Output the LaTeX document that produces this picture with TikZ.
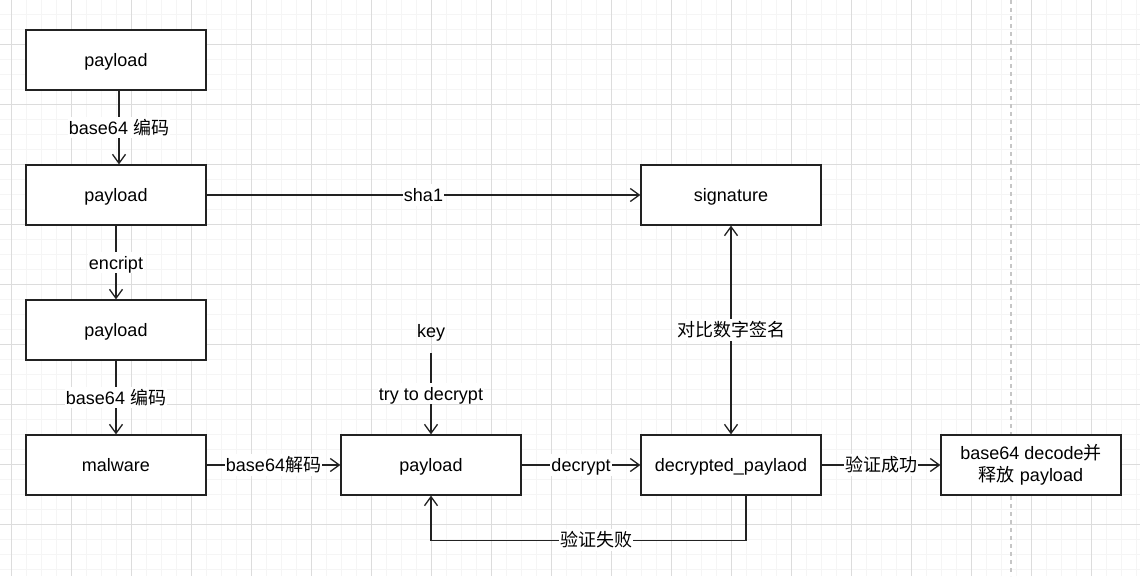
\documentclass[tikz,border=0pt]{standalone}
\usepackage{fontspec}
\setmainfont{Liberation Sans}
\newfontfamily\cjk{Noto Sans CJK SC}
\usetikzlibrary{arrows.meta}
\definecolor{minorgrid}{HTML}{F5F5F5}
\definecolor{majorgrid}{HTML}{DCDCDC}
\definecolor{ink}{HTML}{222222}
\tikzset{
  tip/.tip={Straight Barb[length=9pt,width=13pt,line width=1.3pt]},
  txt/.style={font=\fontsize{18}{21.6}\selectfont, text=black},
  box/.style={draw=ink, line width=1.2pt, fill=white, minimum width=180pt, minimum height=60pt, inner sep=0pt, align=center, txt},
  onebox/.style={box, text height=17pt, text depth=3.8pt},
  conn/.style={draw=ink, line width=1.2pt, -tip},
  biconn/.style={draw=ink, line width=1.2pt, tip-tip},
  lbl/.style={fill=white, inner xsep=1pt, inner ysep=0pt, txt, text height=17.5pt, text depth=3.8pt},
  plain/.style={inner sep=0pt, txt, text height=17pt, text depth=3.8pt}
}
\begin{document}
\begin{tikzpicture}[x=1pt,y=-1pt]
\useasboundingbox (0,0) rectangle (1140,576);
\fill[white] (0,0) rectangle (1140,576);
% minor grid
\foreach \gx in {11,26,...,1140} \draw[minorgrid, line width=1pt] (\gx,0) -- (\gx,576);
\foreach \gy in {14,29,...,576} \draw[minorgrid, line width=1pt] (0,\gy) -- (1140,\gy);
% major grid
\foreach \gx in {11,71,...,1140} \draw[majorgrid, line width=1pt] (\gx,0) -- (\gx,576);
\foreach \gy in {44,104,...,576} \draw[majorgrid, line width=1pt] (0,\gy) -- (1140,\gy);
% dashed vertical guide
\draw[color=majorgrid!90!black, line width=1.5pt, dash pattern=on 4pt off 4pt] (1011,0) -- (1011,576);

% boxes
\node[onebox] (b1) at (116,60) {payload};
\node[onebox] (b2) at (116,195) {payload};
\node[onebox] (b3) at (116,330) {payload};
\node[onebox] (mw) at (116,465) {malware};
\node[onebox] (pl) at (431,465) {payload};
\node[onebox] (dec) at (731,465) {decrypted\_paylaod};
\node[onebox] (sig) at (731,195) {signature};
\node[box] (fin) at (1031,465) {base64 decode{\cjk 并}\\{\cjk 释放} payload};
\node[plain] (key) at (431,331) {key};
\coordinate (keyend) at (431,353);

% connectors
\draw[conn] ([xshift=3pt]b1.south) -- node[lbl] {base64 {\cjk 编码}} ([xshift=3pt]b2.north);
\draw[conn] (b2.south) -- node[lbl] {encript} (b3.north);
\draw[conn] (b3.south) -- node[lbl] {base64 {\cjk 编码}} (mw.north);
\draw[conn] (b2.east) -- node[lbl] {sha1} (sig.west);
\draw[conn] (mw.east) -- node[lbl] {base64{\cjk 解码}} (pl.west);
\draw[conn] (pl.east) -- node[lbl] {decrypt} (dec.west);
\draw[conn] (dec.east) -- node[lbl] {\cjk 验证成功} (fin.west);
\draw[conn] (keyend) -- node[lbl] {try to decrypt} (pl.north);
\draw[biconn] (dec.north) -- node[lbl] {\cjk 对比数字签名} (sig.south);
\coordinate (fbstart) at ([xshift=15pt]dec.south);
\coordinate (fbcorner) at ([yshift=-45pt]fbstart);
\draw[conn] (fbstart) -- (fbcorner) -| (pl.south);
\node[lbl] (fblabel) at (596,540) {\cjk 验证失败};
\end{tikzpicture}
\end{document}
